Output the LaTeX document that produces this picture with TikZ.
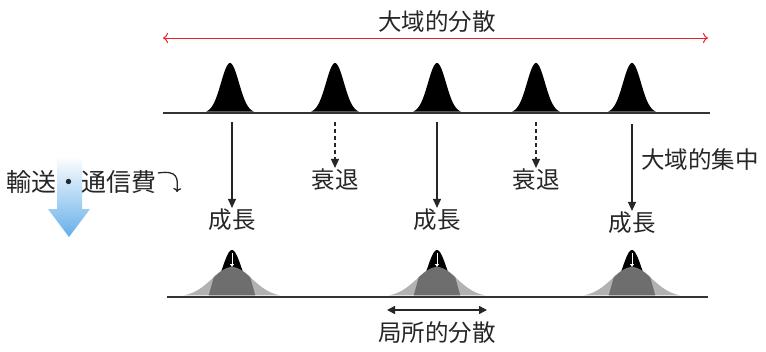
\documentclass[tikz,border=0pt]{standalone}
\usepackage{fontspec}
\newfontfamily\jpfont{Noto Sans CJK JP}
\usetikzlibrary{arrows.meta}
\definecolor{spreadred}{RGB}{232,32,42}
\definecolor{lightbump}{RGB}{178,178,178}
\definecolor{darkbump}{RGB}{110,110,110}
\definecolor{costblue}{RGB}{100,175,232}
\tikzset{
	lbl/.style={font=\jpfont\fontsize{23.5}{24}\selectfont, text=black!85, inner sep=1pt},
	growarrow/.style={-{Triangle[length=9pt,width=8pt]}, line width=1.2pt, black!85},
	declinearrow/.style={growarrow, dash pattern=on 4pt off 3pt},
}
\begin{document}
\begin{tikzpicture}[x=1pt,y=-1pt]
	\useasboundingbox (0,0) rectangle (766,351);

	%dispersion globale
	\node[lbl] (global) at (437,22) {大域的分散};
	\coordinate (gl) at (163,38);
	\coordinate (gr) at (708,38);
	\draw [spreadred, line width=1pt, {To[length=5pt,width=10pt]}-{To[length=5pt,width=10pt]}] (gl) -- (gr);

	%pics du haut
	\foreach \px in {230,335,437,536,632}
		\fill [black] plot [domain=-24:24, samples=40] ({\px+\x},{113-50*exp(-(\x)^2/160)}) -- cycle;
	\draw [black!80, line width=1.5pt] (163,113) -- (710,113);

	%fleches
	\node[lbl] (g1) at (232,220) {成長};
	\node[lbl] (g2) at (437,220) {成長};
	\node[lbl] (g3) at (632,223) {成長};
	\node[lbl] (d1) at (335,180) {衰退};
	\node[lbl] (d2) at (536,180) {衰退};
	\node[lbl, anchor=west] (conc) at (640,160) {大域的集中};
	\coordinate (s1) at (232,122);
	\coordinate (s2) at (437,122);
	\coordinate (s3) at (632,124);
	\coordinate (t1) at (335,122);
	\coordinate (t2) at (536,122);
	\draw [growarrow] (s1) -- (g1.north);
	\draw [growarrow] (s2) -- (g2.north);
	\draw [growarrow] (s3) -- (g3.north);
	\draw [declinearrow] (t1) -- (d1.north);
	\draw [declinearrow] (t2) -- (d2.north);

	%pics du bas
	\foreach \px in {232,437,632} {
		\fill [lightbump] plot [domain=-48:48, samples=60] ({\px+\x},{297-30*exp(-(\x)^2/800)}) -- cycle;
		\fill [black] plot [domain=-20:20, samples=40] ({\px+\x},{297-47*exp(-(\x)^2/190)}) -- cycle;
		\begin{scope}
			\clip plot [domain=-48:48, samples=60] ({\px+\x},{297-30*exp(-(\x)^2/800)}) -- cycle;
			\fill [darkbump] (\px-24,298) -- (\px-14,262) -- (\px+14,262) -- (\px+24,298) -- cycle;
		\end{scope}
		\draw [white, line width=0.8pt, -{Triangle[length=3pt,width=4pt]}] (\px,253) -- (\px,267);
	}
	\draw [black!80, line width=1.5pt] (167,297) -- (708,297);

	%dispersion locale
	\coordinate (ll) at (387,310);
	\coordinate (lr) at (487,310);
	\draw [black!85, line width=1.5pt, {Triangle[length=8pt,width=8pt]}-{Triangle[length=8pt,width=8pt]}] (ll) -- (lr);
	\node[lbl] (local) at (437,333) {局所的分散};

	%cout de transport
	\shade [top color=white, bottom color=costblue, shading angle=0]
		(57,156) -- (82,156) -- (82,209) -- (90,209) -- (69,237) -- (48,209) -- (57,209) -- cycle;
	\node[lbl, font=\jpfont\fontsize{25}{25}\selectfont, anchor=west] (cost) at (5,182) {輸送・通信費};
	\coordinate (cs) at (158,173);
	\coordinate (ce) at (177,192);
	\draw [black!85, line width=1.3pt, -{To[length=4pt,width=8pt]}] (cs) .. controls (178,170) and (178,178) .. (ce);
\end{tikzpicture}
\end{document}
